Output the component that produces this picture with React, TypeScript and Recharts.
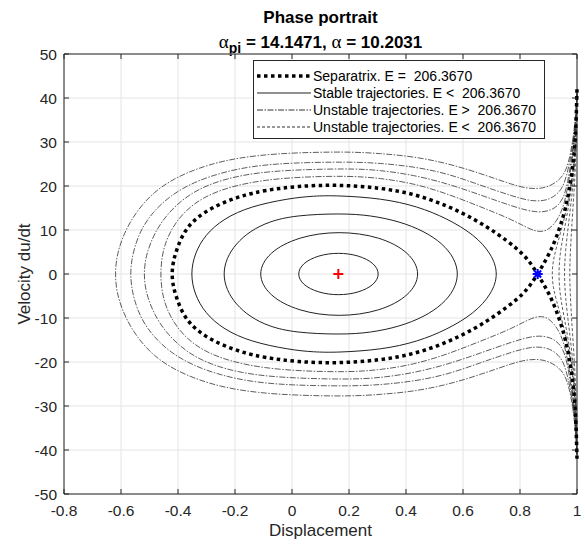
import {
  CartesianGrid,
  ComposedChart,
  Label,
  Legend,
  Line,
  ReferenceArea,
  Scatter,
  XAxis,
  YAxis,
} from 'recharts'

type Pt = [number, number]

const X_TICKS = [-0.8, -0.6, -0.4, -0.2, 0, 0.2, 0.4, 0.6, 0.8, 1]
const Y_TICKS = [-50, -40, -30, -20, -10, 0, 10, 20, 30, 40, 50]

const E_SEP = '206.3670'

// equilibria: centre (red +) and saddle (blue *)
const CENTER: Pt[] = [[0.1625, 0]]
const SADDLE: Pt[] = [[0.862, 0]]

// closed orbits around the centre (solid), one lap each
const STABLE_1: Pt[] = [
  [0.163, 4.75], [0.199, 4.59], [0.233, 4.11], [0.262, 3.36], [0.285, 2.38], [0.299, 1.23],
  [0.304, 0], [0.299, -1.23], [0.285, -2.38], [0.262, -3.36], [0.233, -4.11], [0.199, -4.59],
  [0.163, -4.75], [0.127, -4.59], [0.093, -4.11], [0.064, -3.36], [0.041, -2.38], [0.027, -1.23],
  [0.022, 0], [0.027, 1.23], [0.041, 2.38], [0.064, 3.36], [0.093, 4.11], [0.127, 4.59],
]
const STABLE_2: Pt[] = [
  [0.1655, 9.5], [0.238, 9.18], [0.305, 8.23], [0.362, 6.72], [0.406, 4.75], [0.434, 2.46],
  [0.444, 0], [0.434, -2.46], [0.406, -4.75], [0.362, -6.72], [0.305, -8.23], [0.238, -9.18],
  [0.1655, -9.5], [0.093, -9.18], [0.027, -8.23], [-0.031, -6.72], [-0.075, -4.75], [-0.103, -2.46],
  [-0.113, 0], [-0.103, 2.46], [-0.075, 4.75], [-0.031, 6.72], [0.027, 8.23], [0.093, 9.18],
]
const STABLE_3: Pt[] = [
  [0.17, 13.8], [0.277, 13.33], [0.377, 11.95], [0.463, 9.76], [0.529, 6.9], [0.57, 3.57],
  [0.585, 0], [0.57, -3.57], [0.529, -6.9], [0.463, -9.76], [0.377, -11.95], [0.277, -13.33],
  [0.17, -13.8], [0.01, -13.33], [-0.08, -11.95], [-0.147, -9.76], [-0.197, -6.9], [-0.23, -3.57],
  [-0.242, 0], [-0.23, 3.57], [-0.197, 6.9], [-0.147, 9.76], [-0.08, 11.95], [0.01, 13.33],
]
const STABLE_4: Pt[] = [
  [0.16, 17.85], [0.315, 17.19], [0.44, 15.4], [0.545, 12.6], [0.64, 8.9], [0.7, 4.6],
  [0.725, 0], [0.7, -4.6], [0.64, -8.9], [0.545, -12.6], [0.44, -15.4], [0.315, -17.19],
  [0.16, -17.85], [0.075, -17.75], [-0.01, -17.19], [-0.145, -15.4], [-0.24, -12.6],
  [-0.305, -8.9], [-0.342, -4.6], [-0.356, 0], [-0.342, 4.6], [-0.305, 8.9], [-0.24, 12.6],
  [-0.145, 15.4], [-0.01, 17.19], [0.075, 17.75],
]

// separatrix: upper outer branch -> saddle -> loop -> saddle -> lower outer branch
const SEPARATRIX: Pt[] = [
  [1.0, 42], [0.997, 34.5], [0.992, 28.5], [0.984, 23.5], [0.973, 19.0], [0.96, 15.0],
  [0.945, 11.6], [0.928, 8.4], [0.91, 5.6], [0.89, 3.1], [0.862, 0],
  [0.83, -3.2], [0.79, -5.8], [0.72, -9.2], [0.64, -12.5], [0.543, -15.6], [0.43, -18.2],
  [0.309, -19.6], [0.162, -20.3], [0.02, -20.0], [-0.098, -19.0], [-0.17, -17.9],
  [-0.24, -16.3], [-0.305, -14.2], [-0.355, -11.6], [-0.385, -8.8], [-0.405, -5.5],
  [-0.417, -2.8], [-0.422, 0],
  [-0.417, 2.8], [-0.405, 5.5], [-0.385, 8.8], [-0.355, 11.6], [-0.305, 14.2], [-0.24, 16.3],
  [-0.17, 17.9], [-0.098, 19.0], [0.02, 20.0], [0.162, 20.3], [0.309, 19.6], [0.43, 18.2],
  [0.543, 15.6], [0.64, 12.5], [0.72, 9.2], [0.79, 5.8], [0.83, 3.2], [0.862, 0],
  [0.89, -3.1], [0.91, -5.6], [0.928, -8.4], [0.945, -11.6], [0.96, -15.0], [0.973, -19.0],
  [0.984, -23.5], [0.992, -28.5], [0.997, -34.5], [1.0, -42],
]

// unstable, E above the separatrix (dash-dot)
const OUTER_1: Pt[] = [
  [1.0, 41], [0.994, 35], [0.985, 30], [0.97, 25.2], [0.958, 23.2], [0.94, 21.4], [0.894, 19.5],
  [0.835, 19.3], [0.777, 20.2], [0.66, 22.9], [0.543, 25.2], [0.426, 26.7], [0.309, 27.4],
  [0.2, 27.8], [0.02, 27.6], [-0.122, 27.0], [-0.239, 25.8], [-0.332, 24.0], [-0.414, 21.7],
  [-0.484, 18.7], [-0.543, 14.5], [-0.584, 10], [-0.607, 6], [-0.617, 3], [-0.62, 0],
  [-0.617, -3], [-0.607, -6], [-0.584, -10], [-0.543, -14.5], [-0.484, -18.7], [-0.414, -21.7],
  [-0.332, -24.0], [-0.239, -25.8], [-0.122, -27.0], [0.02, -27.6], [0.2, -27.8], [0.309, -27.4],
  [0.426, -26.7], [0.543, -25.2], [0.66, -22.9], [0.777, -20.2], [0.835, -19.3], [0.894, -19.5],
  [0.94, -21.4], [0.958, -23.2], [0.97, -25.2], [0.985, -30], [0.994, -35], [1.0, -41],
]
const OUTER_2: Pt[] = [
  [1.0, 41], [0.995, 35], [0.987, 30], [0.974, 25.2], [0.962, 22], [0.947, 19.1], [0.906, 16.8],
  [0.847, 16.4], [0.777, 17.6], [0.66, 20.2], [0.543, 22.9], [0.426, 24.4], [0.309, 25.2],
  [0.2, 25.5], [-0.005, 25.3], [-0.145, 24.5], [-0.25, 23.0], [-0.344, 20.9], [-0.426, 17.9],
  [-0.49, 14.0], [-0.531, 10], [-0.553, 6], [-0.563, 3], [-0.567, 0],
  [-0.563, -3], [-0.553, -6], [-0.531, -10], [-0.49, -14.0], [-0.426, -17.9], [-0.344, -20.9],
  [-0.25, -23.0], [-0.145, -24.5], [-0.005, -25.3], [0.2, -25.5], [0.309, -25.2], [0.426, -24.4],
  [0.543, -22.9], [0.66, -20.2], [0.777, -17.6], [0.847, -16.4], [0.906, -16.8], [0.947, -19.1],
  [0.962, -22], [0.974, -25.2], [0.987, -30], [0.995, -35], [1.0, -41],
]
const OUTER_3: Pt[] = [
  [1.0, 41], [0.996, 35], [0.989, 30], [0.978, 25.2], [0.968, 21], [0.952, 16.8], [0.917, 14.5],
  [0.859, 13.8], [0.777, 15.3], [0.66, 18.0], [0.543, 20.6], [0.426, 22.5], [0.309, 23.6],
  [0.2, 24.0], [-0.04, 23.6], [-0.18, 22.5], [-0.285, 20.6], [-0.367, 17.9], [-0.437, 13.8],
  [-0.484, 9.2], [-0.508, 5], [-0.516, 2.5], [-0.519, 0],
  [-0.516, -2.5], [-0.508, -5], [-0.484, -9.2], [-0.437, -13.8], [-0.367, -17.9], [-0.285, -20.6],
  [-0.18, -22.5], [-0.04, -23.6], [0.2, -24.0], [0.309, -23.6], [0.426, -22.5], [0.543, -20.6],
  [0.66, -18.0], [0.777, -15.3], [0.859, -13.8], [0.917, -14.5], [0.952, -16.8], [0.968, -21],
  [0.978, -25.2], [0.989, -30], [0.996, -35], [1.0, -41],
]
const OUTER_4: Pt[] = [
  [1.0, 41], [0.997, 35], [0.991, 30], [0.981, 25], [0.966, 19], [0.947, 13.8], [0.906, 10.0],
  [0.859, 9.2], [0.777, 12.3], [0.66, 15.3], [0.543, 18.3], [0.426, 20.6], [0.309, 21.8],
  [0.2, 22.3], [0.042, 22.1], [-0.098, 21.4], [-0.215, 19.9], [-0.309, 17.6], [-0.379, 14.2],
  [-0.426, 10.0], [-0.45, 6], [-0.458, 3], [-0.461, 0],
  [-0.458, -3], [-0.45, -6], [-0.426, -10.0], [-0.379, -14.2], [-0.309, -17.6], [-0.215, -19.9],
  [-0.098, -21.4], [0.042, -22.1], [0.2, -22.3], [0.309, -21.8], [0.426, -20.6], [0.543, -18.3],
  [0.66, -15.3], [0.777, -12.3], [0.859, -9.2], [0.906, -10.0], [0.947, -13.8], [0.966, -19],
  [0.981, -25], [0.991, -30], [0.997, -35], [1.0, -41],
]

// unstable, E below the separatrix, right of the saddle (dashed)
const INNER_1: Pt[] = [
  [1.0, 41], [0.997, 34], [0.992, 27.9], [0.984, 22.8], [0.973, 18.1], [0.96, 13.8], [0.945, 10],
  [0.928, 6.1], [0.916, 3], [0.912, 0], [0.916, -3], [0.928, -6.1], [0.945, -10], [0.96, -13.8],
  [0.973, -18.1], [0.984, -22.8], [0.992, -27.9], [0.997, -34], [1.0, -41],
]
const INNER_2: Pt[] = [
  [1.0, 41], [0.997, 33.5], [0.992, 26.8], [0.984, 21.4], [0.973, 16.4], [0.96, 11.5],
  [0.945, 6.5], [0.939, 3.5], [0.936, 0], [0.939, -3.5], [0.945, -6.5], [0.96, -11.5],
  [0.973, -16.4], [0.984, -21.4], [0.992, -26.8], [0.997, -33.5], [1.0, -41],
]
const INNER_3: Pt[] = [
  [1.0, 41], [0.997, 32.5], [0.992, 24.8], [0.984, 18.9], [0.973, 12.8], [0.966, 9], [0.96, 5.4],
  [0.957, 2.5], [0.956, 0], [0.957, -2.5], [0.96, -5.4], [0.966, -9], [0.973, -12.8],
  [0.984, -18.9], [0.992, -24.8], [0.997, -32.5], [1.0, -41],
]
const INNER_4: Pt[] = [
  [1.0, 41], [0.997, 28.5], [0.992, 20.9], [0.984, 13.3], [0.979, 8], [0.976, 4], [0.974, 0],
  [0.976, -4], [0.979, -8], [0.984, -13.3], [0.992, -20.9], [0.997, -28.5], [1.0, -41],
]

const LEGEND_LABELS = [
  `Separatrix. E =  ${E_SEP}`,
  `Stable trajectories. E <  ${E_SEP}`,
  `Unstable trajectories. E >  ${E_SEP}`,
  `Unstable trajectories. E <  ${E_SEP}`,
]

const FONT = '"Liberation Sans", Arial, Helvetica, sans-serif'
const TEXT = '#262626'
const AXIS = '#262626'
const GRID = '#e4e4e4'
const PLOT_W = 513
const PLOT_H = 440
const TICK = 5

const STYLES = {
  sep: { stroke: '#000', strokeWidth: 3.5, strokeDasharray: '3.5 3.5' },
  stable: { stroke: '#222', strokeWidth: 1, strokeDasharray: undefined },
  outer: { stroke: '#333', strokeWidth: 0.8, strokeDasharray: '6 1.5 1.5 1.5' },
  inner: { stroke: '#333', strokeWidth: 0.8, strokeDasharray: '3 2' },
}

type Curve = 'basis' | 'basisClosed'

const SERIES: { key: string; points: Pt[]; style: keyof typeof STYLES; curve: Curve }[] = [
  { key: 's1', points: STABLE_1, style: 'stable', curve: 'basisClosed' },
  { key: 's2', points: STABLE_2, style: 'stable', curve: 'basisClosed' },
  { key: 's3', points: STABLE_3, style: 'stable', curve: 'basisClosed' },
  { key: 's4', points: STABLE_4, style: 'stable', curve: 'basisClosed' },
  { key: 'o1', points: OUTER_1, style: 'outer', curve: 'basis' },
  { key: 'o2', points: OUTER_2, style: 'outer', curve: 'basis' },
  { key: 'o3', points: OUTER_3, style: 'outer', curve: 'basis' },
  { key: 'o4', points: OUTER_4, style: 'outer', curve: 'basis' },
  { key: 'i1', points: INNER_1, style: 'inner', curve: 'basis' },
  { key: 'i2', points: INNER_2, style: 'inner', curve: 'basis' },
  { key: 'i3', points: INNER_3, style: 'inner', curve: 'basis' },
  { key: 'i4', points: INNER_4, style: 'inner', curve: 'basis' },
  { key: 'sep', points: SEPARATRIX, style: 'sep', curve: 'basis' },
]

const toRows = (pts: Pt[]) => pts.map(([u, v]) => ({ u, v }))

function XTick({ x, y, payload }: any) {
  return (
    <g>
      <line x1={x} x2={x} y1={y} y2={y - TICK} stroke={AXIS} />
      <line x1={x} x2={x} y1={y - PLOT_H} y2={y - PLOT_H + TICK} stroke={AXIS} />
      <text x={x} y={y + 16} textAnchor="middle" dominantBaseline="central" fontSize={15.5} fill={TEXT} fontFamily={FONT}>
        {payload.value}
      </text>
    </g>
  )
}

function YTick({ x, y, payload }: any) {
  return (
    <g>
      <line x1={x} x2={x + TICK} y1={y} y2={y} stroke={AXIS} />
      <line x1={x + PLOT_W} x2={x + PLOT_W - TICK} y1={y} y2={y} stroke={AXIS} />
      <text x={x - 7} y={y} textAnchor="end" dominantBaseline="central" fontSize={15.5} fill={TEXT} fontFamily={FONT}>
        {payload.value}
      </text>
    </g>
  )
}

function XLabel({ viewBox }: any) {
  const cx = viewBox.x + viewBox.width / 2
  return (
    <text x={cx} y={viewBox.y + 36} textAnchor="middle" dominantBaseline="central" fontSize={17} fill={TEXT} fontFamily={FONT}>
      Displacement
    </text>
  )
}

function YLabel({ viewBox }: any) {
  const cx = viewBox.x + 24
  const cy = viewBox.y + viewBox.height / 2
  return (
    <text x={cx} y={cy} transform={`rotate(-90 ${cx} ${cy})`} textAnchor="middle" dominantBaseline="central" fontSize={17} fill={TEXT} fontFamily={FONT}>
      Velocity du/dt
    </text>
  )
}

function PlusMark({ cx, cy }: any) {
  return (
    <g stroke="#ff0000" strokeWidth={2}>
      <line x1={cx - 5} x2={cx + 5} y1={cy} y2={cy} />
      <line x1={cx} x2={cx} y1={cy - 5} y2={cy + 5} />
    </g>
  )
}

function StarMark({ cx, cy }: any) {
  return (
    <g stroke="#0000ff" strokeWidth={2}>
      <line x1={cx - 5} x2={cx + 5} y1={cy} y2={cy} />
      <line x1={cx} x2={cx} y1={cy - 5} y2={cy + 5} />
      <line x1={cx - 3.5} x2={cx + 3.5} y1={cy - 3.5} y2={cy + 3.5} />
      <line x1={cx - 3.5} x2={cx + 3.5} y1={cy + 3.5} y2={cy - 3.5} />
    </g>
  )
}

const LEGEND_STYLES: (keyof typeof STYLES)[] = ['sep', 'stable', 'outer', 'inner']

function LegendBox() {
  return (
    <div
      style={{
        boxSizing: 'border-box',
        width: 292,
        height: 79,
        border: `1px solid ${AXIS}`,
        background: '#fff',
        padding: '6px 0 0 3px',
        fontFamily: FONT,
        fontSize: 14,
        color: '#000',
      }}
    >
      {LEGEND_LABELS.map((label, i) => {
        const st = STYLES[LEGEND_STYLES[i]]
        return (
          <div key={i} style={{ display: 'flex', alignItems: 'center', height: 17 }}>
            <svg width={54} height={8} style={{ marginRight: 2 }}>
              <line x1={0} x2={54} y1={4} y2={4} stroke={st.stroke} strokeWidth={i === 0 ? 3.5 : 1} strokeDasharray={st.strokeDasharray} />
            </svg>
            <span style={{ whiteSpace: 'pre' }}>{label}</span>
          </div>
        )
      })}
    </div>
  )
}

export default function App() {
  return (
    <div style={{ position: 'absolute', left: 0, top: 0, width: 585, height: 544, background: '#fff', fontFamily: FONT }}>
      <div style={{ position: 'absolute', left: 64, width: PLOT_W, top: 7, textAlign: 'center', fontWeight: 'bold', fontSize: 17, lineHeight: '22px', color: '#000' }}>
        Phase portrait
      </div>
      <div style={{ position: 'absolute', left: 64, width: PLOT_W, top: 31, textAlign: 'center', fontWeight: 'bold', fontSize: 17, lineHeight: '22px', color: '#000' }}>
        <span style={{ fontFamily: '"Liberation Serif", serif', fontWeight: 'normal', fontSize: 19 }}>α</span>
        <span style={{ fontSize: 14, position: 'relative', top: 5 }}>pi</span>
        {' = 14.1471, '}
        <span style={{ fontFamily: '"Liberation Serif", serif', fontWeight: 'normal', fontSize: 19 }}>α</span>
        {' = 10.2031'}
      </div>
      <ComposedChart width={585} height={544} margin={{ top: 54, right: 8, bottom: 0, left: 0 }} style={{ position: 'absolute', left: 0, top: 0 }}>
        <CartesianGrid stroke={GRID} />
        <XAxis
          type="number"
          dataKey="u"
          domain={[-0.8, 1]}
          ticks={X_TICKS}
          interval={0}
          height={50}
          tickSize={0}
          tickMargin={0}
          tickLine={false}
          axisLine={false}
          tick={XTick}
        >
          <Label content={XLabel} />
        </XAxis>
        <YAxis
          type="number"
          dataKey="v"
          domain={[-50, 50]}
          ticks={Y_TICKS}
          interval={0}
          width={64}
          tickSize={0}
          tickMargin={0}
          tickLine={false}
          axisLine={false}
          tick={YTick}
        >
          <Label content={YLabel} />
        </YAxis>
        {SERIES.map((s) => (
          <Line
            key={s.key}
            data={toRows(s.points)}
            dataKey="v"
            type={s.curve}
            dot={false}
            activeDot={false}
            legendType="none"
            isAnimationActive={false}
            {...STYLES[s.style]}
          />
        ))}
        <ReferenceArea x1={-0.8} x2={1} y1={-50} y2={50} fill="none" stroke={AXIS} strokeWidth={1} />
        <Scatter data={toRows(CENTER)} shape={PlusMark} isAnimationActive={false} />
        <Scatter data={toRows(SADDLE)} shape={StarMark} isAnimationActive={false} />
        <Legend
          content={LegendBox}
          layout="vertical"
          align="center"
          verticalAlign="middle"
          wrapperStyle={{ left: 253, top: 60, width: 292, height: 79 }}
        />
      </ComposedChart>
    </div>
  )
}
